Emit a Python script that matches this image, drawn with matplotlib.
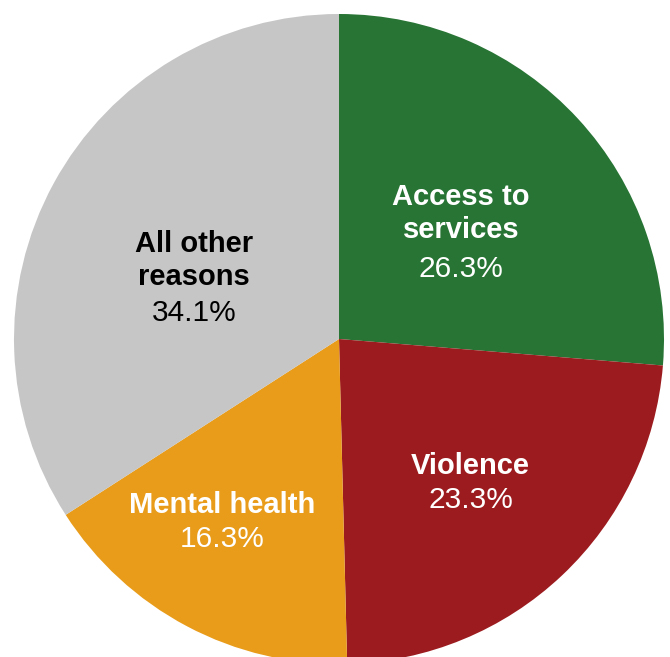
import matplotlib
matplotlib.use('Agg')
import matplotlib.pyplot as plt

# data
labels = ['Access to\nservices', 'Violence', 'Mental health', 'All other\nreasons']
shares = [26.3, 23.3, 16.3, 34.1]
colors = ['#277434', '#9c1b1e', '#e89c1a', '#c6c6c6']
text_colors = ['white', 'white', 'white', 'black']

# label anchors (name block centre, pct centre) in pie units
name_pos = [(0.375, 0.386), (0.405, -0.392), (-0.36, -0.511), (-0.446, 0.242)]
pct_pos = [(0.375, 0.214), (0.405, -0.494), (-0.36, -0.614), (-0.446, 0.079)]

fig = plt.figure(figsize=(6.70, 6.57), dpi=100)
ax = fig.add_axes([14 / 670, -7 / 657, 650 / 670, 650 / 657])
ax.pie(shares, colors=colors, startangle=90, counterclock=False,
       wedgeprops=dict(linewidth=0))
ax.set_xlim(-1, 1)
ax.set_ylim(-1, 1)
ax.set_aspect('equal')

for lab, val, c, npos, ppos in zip(labels, shares, text_colors, name_pos, pct_pos):
    ax.text(npos[0], npos[1], lab, ha='center', va='center', color=c,
            fontsize=21, fontweight='bold', family='Liberation Sans',
            linespacing=1.2)
    ax.text(ppos[0], ppos[1], f'{val}%', ha='center', va='center', color=c,
            fontsize=21.5, family='Liberation Sans')

fig.savefig('out.png', dpi=100)
